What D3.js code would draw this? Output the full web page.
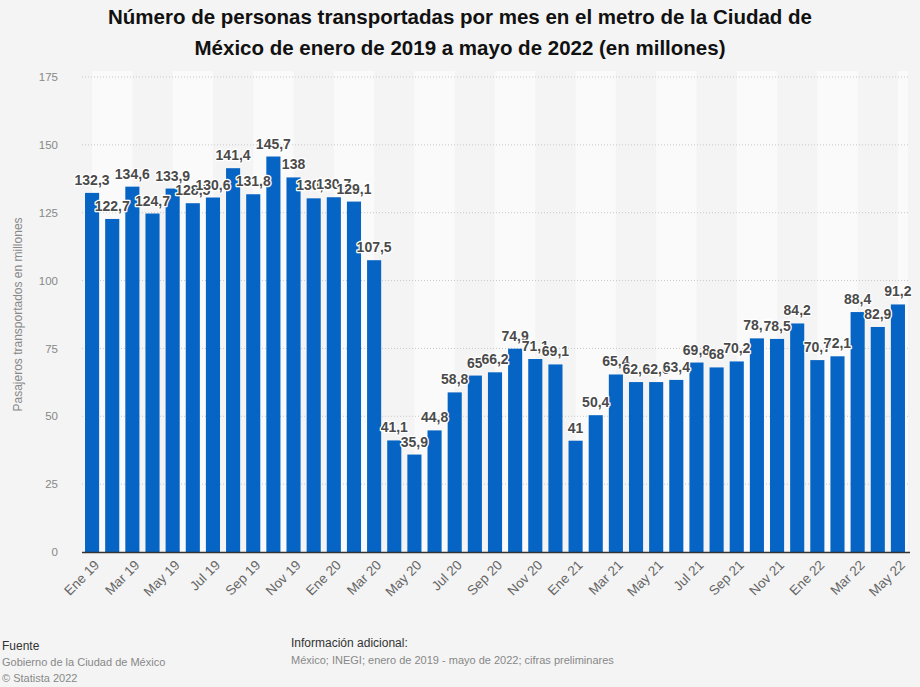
<!DOCTYPE html>
<html><head><meta charset="utf-8">
<script src="https://cdn.jsdelivr.net/npm/d3@7"></script>
<style>
html,body{margin:0;padding:0;background:#f4f4f4;}
svg{display:block;font-family:"Liberation Sans",Arial,Helvetica,sans-serif;}
</style></head>
<body><svg id="chart" width="920" height="687"></svg>
<script>
const months = ["Ene 19","Feb 19","Mar 19","Abr 19","May 19","Jun 19","Jul 19","Ago 19","Sep 19","Oct 19","Nov 19","Dic 19",
"Ene 20","Feb 20","Mar 20","Abr 20","May 20","Jun 20","Jul 20","Ago 20","Sep 20","Oct 20","Nov 20","Dic 20",
"Ene 21","Feb 21","Mar 21","Abr 21","May 21","Jun 21","Jul 21","Ago 21","Sep 21","Oct 21","Nov 21","Dic 21",
"Ene 22","Feb 22","Mar 22","Abr 22","May 22"];
const values = [132.3,122.7,134.6,124.7,133.9,128.5,130.6,141.4,131.8,145.7,138,130.3,
130.7,129.1,107.5,41.1,35.9,44.8,58.8,65,66.2,74.9,71.1,69.1,
41,50.4,65.4,62.6,62.6,63.4,69.8,68,70.2,78.7,78.5,84.2,
70.7,72.1,88.4,82.9,91.2];
const yTicks = [0,25,50,75,100,125,150,175];
const titleLines = ["Número de personas transportadas por mes en el metro de la Ciudad de","México de enero de 2019 a mayo de 2022 (en millones)"];
const yTitle = "Pasajeros transportados en millones";

const svg = d3.select("#chart");
const m = {left:82, right:908, top:77, bottom:552};
const x = d3.scaleBand().domain(months).range([m.left,m.right]).paddingInner(0.3).paddingOuter(0.15);
const y = d3.scaleLinear().domain([0,175]).range([m.bottom,m.top]);
const fmt = v => String(v).replace(".",",");

// background bands
const step = x.step();
const bandStarts = months.filter((d,i)=>i%4===0);
svg.append("g").selectAll("rect").data(bandStarts).join("rect")
  .attr("x", d => x(d)+x.bandwidth()/2)
  .attr("y", m.top-6)
  .attr("width", d => Math.min(step*2, m.right - (x(d)+x.bandwidth()/2)))
  .attr("height", m.bottom-m.top+6)
  .attr("fill","#fafafa");

// gridlines
svg.append("g").selectAll("line").data(yTicks.filter(t=>t>0)).join("line")
  .attr("x1",m.left).attr("x2",m.right)
  .attr("y1",d=>y(d)).attr("y2",d=>y(d))
  .attr("stroke","#c8c8c8").attr("stroke-dasharray","1,2").attr("stroke-width",1);

// y axis labels
const yAxis = d3.axisLeft(y).tickValues(yTicks).tickSize(0).tickPadding(0).tickFormat(d=>d);
const yg = svg.append("g").attr("transform",`translate(${m.left-24},0)`).call(yAxis);
yg.select(".domain").remove();
yg.selectAll("text").attr("fill","#888").attr("font-size",11.5).attr("font-family","Liberation Sans,Arial,sans-serif");

svg.append("text").attr("transform",`translate(22,${(m.top+m.bottom)/2}) rotate(-90)`)
  .attr("text-anchor","middle").attr("fill","#888").attr("font-size",12).text(yTitle);

// bars
svg.append("g").selectAll("rect").data(values).join("rect")
  .attr("x",(d,i)=>x(months[i])).attr("width",x.bandwidth())
  .attr("y",d=>y(d)).attr("height",d=>y(0)-y(d))
  .attr("fill","#0664c4");

// baseline
svg.append("line").attr("x1",m.left).attr("x2",m.right+2).attr("y1",y(0)+0.5).attr("y2",y(0)+0.5)
  .attr("stroke","#333").attr("stroke-width",1.5);

// x axis
const xAxis = d3.axisBottom(x).tickValues(months.filter((d,i)=>i%2===0)).tickSize(0).tickPadding(0);
const xg = svg.append("g").attr("transform",`translate(0,${m.bottom})`).call(xAxis);
xg.select(".domain").remove();
xg.selectAll("text").attr("fill","#666").attr("font-size",13.5).attr("font-family","Liberation Sans,Arial,sans-serif")
  .attr("text-anchor","end").attr("dy",0).attr("y",0)
  .attr("transform","translate(8,14) rotate(-45)");

// value labels
svg.append("g").selectAll("text").data(values).join("text")
  .attr("x",(d,i)=>x(months[i])+x.bandwidth()/2).attr("y",d=>y(d)-8)
  .attr("text-anchor","middle").attr("font-size",14).attr("font-weight","bold")
  .attr("fill","#4a4a4a").attr("stroke","#fff").attr("stroke-width",2.5).attr("paint-order","stroke")
  .attr("stroke-linejoin","round")
  .text(d=>fmt(d));

// title
svg.append("g").selectAll("text").data(titleLines).join("text")
  .attr("x",460).attr("y",(d,i)=>24+i*31).attr("text-anchor","middle")
  .attr("font-size",20.5).attr("font-weight","bold").attr("fill","#111").text(d=>d);

// footer
const foot = svg.append("g").attr("font-size",11);
foot.append("text").attr("x",2).attr("y",650).attr("fill","#333").attr("font-size",12).text("Fuente");
foot.append("text").attr("x",2).attr("y",666).attr("fill","#888").text("Gobierno de la Ciudad de México");
foot.append("text").attr("x",2).attr("y",682).attr("fill","#888").text("© Statista 2022");
foot.append("text").attr("x",291).attr("y",647).attr("fill","#333").attr("font-size",12).text("Información adicional:");
foot.append("text").attr("x",291).attr("y",664).attr("fill","#888").text("México; INEGI; enero de 2019 - mayo de 2022; cifras preliminares");
</script></body></html>
